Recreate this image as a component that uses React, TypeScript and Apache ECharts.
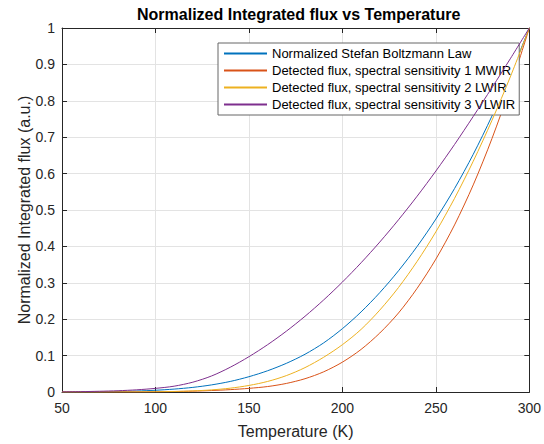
import React, { useEffect, useRef } from "react";
import * as echarts from "echarts";

const temperatures = [50, 60, 70, 80, 90, 100, 110, 120, 130, 140, 150, 160, 170, 180, 190, 200, 210, 220, 230, 240, 250, 260, 270, 280, 290, 300];

const stefanBoltzmann = [0.0, 0.0002, 0.0006, 0.0014, 0.0027, 0.0048, 0.008, 0.0127, 0.0195, 0.029, 0.042, 0.0584, 0.0787, 0.1037, 0.135, 0.174, 0.22, 0.273, 0.333, 0.4, 0.475, 0.559, 0.653, 0.758, 0.873, 1.0];
const mwir = [0.0, 0.0, 0.0, 0.0001, 0.0003, 0.0006, 0.0012, 0.0023, 0.004, 0.0065, 0.01, 0.015, 0.0235, 0.0365, 0.0555, 0.082, 0.117, 0.162, 0.217, 0.285, 0.365, 0.459, 0.569, 0.696, 0.84, 1.0];
const lwir = [0.0, 0.0, 0.0, 0.0001, 0.0003, 0.0007, 0.0015, 0.003, 0.0058, 0.0105, 0.018, 0.029, 0.045, 0.067, 0.0955, 0.13, 0.172, 0.225, 0.287, 0.359, 0.44, 0.532, 0.634, 0.746, 0.868, 1.0];
const vlwir = [0.0004, 0.001, 0.002, 0.0035, 0.006, 0.01, 0.016, 0.027, 0.044, 0.068, 0.097, 0.13, 0.167, 0.208, 0.253, 0.302, 0.355, 0.412, 0.473, 0.538, 0.607, 0.68, 0.757, 0.836, 0.917, 1.0];

const seriesNames = [
  "Normalized Stefan Boltzmann Law",
  "Detected flux, spectral sensitivity 1 MWIR",
  "Detected flux, spectral sensitivity 2 LWIR",
  "Detected flux, spectral sensitivity 3 VLWIR",
];
const seriesColors = ["#0072BD", "#D95319", "#EDB120", "#7E2F8E"];
const seriesValues = [stefanBoltzmann, mwir, lwir, vlwir];

const FONT = "'Liberation Sans', Arial, Helvetica, sans-serif";
const AXIS_COLOR = "#262626";
const GRID_COLOR = "#e3e3e3";

export default function App() {
  const ref = useRef<HTMLDivElement>(null);

  useEffect(() => {
    document.body.style.margin = "0";
    if (!ref.current) return;
    const chart = echarts.init(ref.current, null, { renderer: "svg" });

    const axisCommon = {
      axisLine: { show: true, onZero: false, lineStyle: { color: AXIS_COLOR, width: 1 } },
      axisTick: { show: true, inside: true, length: 5, lineStyle: { color: AXIS_COLOR, width: 1 } },
    };

    chart.setOption({
      animation: false,
      backgroundColor: "#ffffff",
      textStyle: { fontFamily: FONT },
      title: {
        text: "Normalized Integrated flux vs Temperature",
        left: 137,
        top: 6,
        padding: 0,
        textStyle: { fontFamily: FONT, fontSize: 16, fontWeight: "bold", color: "#000000" },
      },
      grid: { left: 62, top: 28, width: 470, height: 370, containLabel: false },
      legend: {
        orient: "vertical",
        left: 218,
        top: 43,
        padding: [4, 4, 4, 5],
        itemWidth: 43,
        itemHeight: 14,
        itemGap: 4,
        itemTextGap: 5,
        backgroundColor: "#ffffff",
        borderColor: "#666666",
        borderWidth: 1,
        borderRadius: 0,
        itemStyle: { opacity: 0 },
        textStyle: { fontFamily: FONT, fontSize: 13, color: "#000000" },
        data: seriesNames,
      },
      xAxis: [
        {
          type: "value",
          min: 50,
          max: 300,
          interval: 50,
          position: "bottom",
          name: "Temperature (K)",
          nameLocation: "middle",
          nameGap: 31,
          nameMoveOverlap: false,
          nameTextStyle: { fontFamily: FONT, fontSize: 16, color: AXIS_COLOR },
          axisLabel: { fontFamily: FONT, fontSize: 14, color: AXIS_COLOR, margin: 9 },
          splitLine: { show: true, lineStyle: { color: GRID_COLOR, width: 1 } },
          ...axisCommon,
        },
        {
          type: "value",
          min: 50,
          max: 300,
          interval: 50,
          position: "top",
          axisLabel: { show: false },
          splitLine: { show: false },
          ...axisCommon,
        },
      ],
      yAxis: [
        {
          type: "value",
          min: 0,
          max: 1,
          interval: 0.1,
          position: "left",
          name: "Normalized Integrated flux (a.u.)",
          nameLocation: "middle",
          nameGap: 30,
          nameMoveOverlap: false,
          nameTextStyle: { fontFamily: FONT, fontSize: 16, color: AXIS_COLOR },
          axisLabel: { fontFamily: FONT, fontSize: 14, color: AXIS_COLOR, margin: 7 },
          splitLine: { show: true, lineStyle: { color: GRID_COLOR, width: 1 } },
          ...axisCommon,
        },
        {
          type: "value",
          min: 0,
          max: 1,
          interval: 0.1,
          position: "right",
          axisLabel: { show: false },
          splitLine: { show: false },
          ...axisCommon,
        },
      ],
      series: seriesValues.map((vals, i) => ({
        name: seriesNames[i],
        type: "line",
        xAxisIndex: 0,
        yAxisIndex: 0,
        data: temperatures.map((t, j) => [t, vals[j]]),
        showSymbol: false,
        symbol: "none",
        smooth: 0.3,
        lineStyle: { color: seriesColors[i], width: 1 },
        itemStyle: { color: seriesColors[i] },
        emphasis: { disabled: true },
        z: 2 + i,
      })),
    });

    return () => chart.dispose();
  }, []);

  return <div ref={ref} style={{ width: 544, height: 444 }} />;
}
